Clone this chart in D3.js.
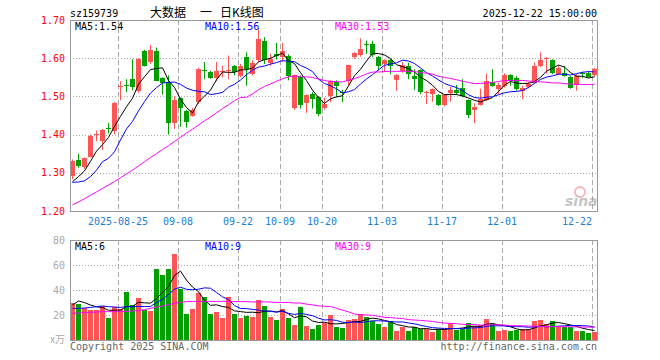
<!DOCTYPE html>
<html>
<head>
<meta charset="utf-8">
<script src="https://cdn.jsdelivr.net/npm/d3@7"></script>
<style>
  body { margin: 0; background: #fff; }
  text { font-family: "DejaVu Sans Mono", monospace; font-size: 10px; }
</style>
</head>
<body>
<div id="chart"></div>
<script>
// trading days shown, 2025-08-13 .. 2025-12-22
const dates = [
  "08-13","08-14","08-15","08-18","08-19","08-20","08-21","08-22","08-25","08-26","08-27","08-28","08-29",
  "09-01","09-02","09-03","09-04","09-05","09-08","09-09","09-10","09-11","09-12","09-15","09-16","09-17",
  "09-18","09-19","09-22","09-23","09-24","09-25","09-26","09-29","09-30",
  "10-09","10-10","10-13","10-14","10-15","10-16","10-17","10-20","10-21","10-22","10-23","10-24","10-27",
  "10-28","10-29","10-30","10-31",
  "11-03","11-04","11-05","11-06","11-07","11-10","11-11","11-12","11-13","11-14","11-17","11-18","11-19",
  "11-20","11-21","11-24","11-25","11-26","11-27","11-28",
  "12-01","12-02","12-03","12-04","12-05","12-08","12-09","12-10","12-11","12-12","12-15","12-16","12-17",
  "12-18","12-19","12-22"
];

const opens = [1.290,1.333,1.315,1.342,1.398,1.383,1.416,1.408,1.525,1.531,
  1.545,1.513,1.618,1.590,1.620,1.548,1.537,1.430,1.495,1.462,
  1.450,1.485,1.568,1.565,1.547,1.565,1.566,1.580,1.555,1.602,
  1.559,1.595,1.644,1.588,1.611,1.602,1.605,1.468,1.552,1.483,
  1.507,1.498,1.468,1.500,1.537,1.512,1.540,1.603,1.607,1.638,
  1.636,1.604,1.583,1.594,1.542,1.566,1.580,1.554,1.569,1.509,
  1.507,1.504,1.476,1.508,1.517,1.521,1.490,1.465,1.478,1.490,
  1.538,1.519,1.525,1.556,1.548,1.515,1.523,1.535,1.579,1.599,
  1.595,1.558,1.561,1.551,1.530,1.560,1.562,1.554];

const highs = [1.335,1.350,1.340,1.400,1.410,1.415,1.430,1.485,1.540,1.545,
  1.597,1.600,1.622,1.635,1.628,1.550,1.555,1.500,1.497,1.465,
  1.470,1.575,1.590,1.567,1.590,1.580,1.607,1.582,1.585,1.615,
  1.595,1.676,1.655,1.612,1.640,1.640,1.610,1.557,1.555,1.505,
  1.511,1.500,1.497,1.543,1.542,1.517,1.583,1.616,1.652,1.646,
  1.645,1.606,1.597,1.598,1.558,1.590,1.588,1.571,1.571,1.515,
  1.521,1.506,1.505,1.525,1.530,1.545,1.492,1.482,1.520,1.560,
  1.571,1.536,1.560,1.558,1.553,1.528,1.538,1.589,1.615,1.603,
  1.597,1.580,1.580,1.553,1.558,1.565,1.566,1.575];

const lows = [1.283,1.313,1.310,1.340,1.383,1.360,1.403,1.400,1.490,1.511,
  1.516,1.510,1.578,1.585,1.540,1.505,1.400,1.415,1.420,1.418,
  1.447,1.480,1.545,1.546,1.540,1.550,1.545,1.555,1.550,1.528,
  1.555,1.590,1.585,1.580,1.597,1.590,1.542,1.465,1.468,1.457,
  1.468,1.448,1.465,1.485,1.498,1.485,1.529,1.598,1.604,1.611,
  1.603,1.568,1.565,1.558,1.515,1.562,1.545,1.517,1.506,1.480,
  1.486,1.475,1.474,1.486,1.505,1.498,1.443,1.430,1.476,1.488,
  1.525,1.505,1.523,1.528,1.515,1.493,1.521,1.533,1.577,1.560,
  1.558,1.556,1.552,1.520,1.515,1.548,1.549,1.552];

const closes = [1.330,1.318,1.338,1.397,1.401,1.413,1.414,1.482,1.528,1.528,
  1.524,1.597,1.580,1.622,1.542,1.534,1.430,1.490,1.468,1.432,
  1.465,1.572,1.565,1.549,1.566,1.567,1.568,1.565,1.580,1.570,
  1.587,1.650,1.594,1.598,1.606,1.618,1.552,1.555,1.479,1.503,
  1.494,1.453,1.479,1.540,1.527,1.510,1.581,1.613,1.624,1.636,
  1.607,1.581,1.594,1.577,1.556,1.581,1.558,1.546,1.511,1.512,
  1.519,1.477,1.503,1.516,1.509,1.501,1.450,1.473,1.493,1.540,
  1.528,1.530,1.555,1.543,1.518,1.523,1.532,1.580,1.595,1.601,
  1.560,1.574,1.554,1.523,1.554,1.558,1.551,1.571];

// volume, 万
const volumes = [29.9,28.8,25.9,24.0,24.0,27.2,17.9,26.1,24.5,38.4,
  28.0,33.6,24.0,23.5,56.8,52.3,56.8,68.8,40.8,20.8,
  24.8,37.9,34.4,20.8,22.7,17.9,34.4,20.8,17.9,19.5,
  18.7,32.0,27.2,18.4,16.0,24.8,17.9,12.0,26.4,11.2,
  8.5,12.0,13.3,20.0,10.7,9.9,16.0,16.8,20.8,18.7,
  15.2,12.8,10.7,15.5,7.5,10.7,7.5,10.1,9.1,8.5,
  6.7,8.8,8.5,13.3,8.3,9.1,13.3,11.5,12.0,16.8,
  12.8,7.5,8.3,7.5,8.3,8.5,8.5,15.2,16.0,12.8,
  15.2,10.7,10.7,10.7,7.5,7.5,5.6,6.7];

// MA values at the left edge (they depend on days before the window)
const ma5Head = [1.277,1.290,1.305,1.330];
const ma10Head = [1.275,1.276,1.279,1.290,1.307,1.329,1.338,1.355,1.386];
const ma30Head = [1.216,1.224,1.232,1.241,1.250,1.259,1.268,1.277,1.287,1.297,
  1.307,1.318,1.329,1.340,1.350,1.361,1.371,1.382,1.393,1.404,
  1.414,1.425,1.436,1.446,1.457,1.468,1.478,1.489,1.497];
const vma5Head = [28.0,31.2,29.9,28.0];
const vma10Head = [25.3,25.3,25.6,26.1,26.7,27.2,26.7,26.4,26.1];
const vma30Head = [21.3,21.6,21.9,22.1,22.4,22.7,22.7,22.7,22.7,22.9,
  23.2,23.5,24.3,25.3,26.4,27.2,28.3,29.3,30.1,30.7,
  30.9,30.9,30.9,30.9,30.9,30.9,30.9,30.7,30.7];

const tickDates = ["08-25","09-08","09-22","10-09","10-20","11-03","11-17","12-01","12-22"];
const tickLabels = ["2025-08-25","09-08","09-22","10-09","10-20","11-03","11-17","12-01","12-22"];
const priceTicks = [1.20,1.30,1.40,1.50,1.60,1.70];
const volTicks = [20,40,60,80];

const maLegend = [["MA5:1.54","#000"],["MA10:1.56","#0000ff"],["MA30:1.53","#ff00ff"]];
const volLegend = [["MA5:6","#000"],["MA10:9","#0000ff"],["MA30:9","#ff00ff"]];

const RED = "#ff5454", GREEN = "#00a000";

function movingAvg(vals, n, head) {
  return vals.map(function(v, i) {
    if (i < n - 1) return head[i];
    return d3.mean(vals.slice(i - n + 1, i + 1));
  });
}

const W = 660, H = 360;
const left = 70, right = 598;
const pTop = 20, pBot = 211, vTop = 240, vBot = 340;

const svg = d3.select("#chart").append("svg")
  .attr("width", W).attr("height", H)
  .style("display", "block");

svg.append("rect").attr("width", W).attr("height", H).attr("fill", "#fff");

const x = d3.scaleBand().domain(dates).range([left, right]);
const y = d3.scaleLinear().domain([1.2, 1.7]).range([pBot, pTop]);
const yv = d3.scaleLinear().domain([0, 80]).range([vBot, vTop]);
const cx = d => x(d) + 2.5;

// header
svg.append("text").attr("x", 70).attr("y", 17).attr("fill", "#000").text("sz159739");
const cjk = [["大数据", 150], ["一", 200], ["日K线图", 220]];
cjk.forEach(function(t) {
  svg.append("text").attr("x", t[1]).attr("y", 17)
    .style("font-family", "'Noto Sans CJK SC', sans-serif").style("font-size", "12px")
    .attr("fill", "#000").text(t[0]);
});
svg.append("text").attr("x", 597).attr("y", 17).attr("text-anchor", "end")
  .attr("fill", "#000").text("2025-12-22 15:00:00");

// grids
const grid = svg.append("g");
grid.selectAll("line.hp").data(priceTicks.slice(1, -1)).join("line")
  .attr("x1", left).attr("x2", right - 1)
  .attr("y1", d => Math.round(y(d)) + 0.5).attr("y2", d => Math.round(y(d)) + 0.5)
  .attr("stroke", "#aaa").attr("stroke-dasharray", "1,2");
grid.selectAll("line.hv").data(volTicks.slice(0, -1)).join("line")
  .attr("x1", left).attr("x2", right - 1)
  .attr("y1", d => Math.round(yv(d)) + 0.5).attr("y2", d => Math.round(yv(d)) + 0.5)
  .attr("stroke", "#aaa").attr("stroke-dasharray", "1,2");
tickDates.forEach(function(d) {
  const xx = Math.round(x(d)) + 0.5;
  [[pTop, pBot], [vTop, vBot]].forEach(function(r) {
    grid.append("line").attr("x1", xx).attr("x2", xx).attr("y1", r[0]).attr("y2", r[1])
      .attr("stroke", "#aaa").attr("stroke-dasharray", "5,3");
  });
});

// sina mark
const logo = svg.append("g").attr("opacity", 0.55);
logo.append("circle").attr("cx", 580).attr("cy", 192).attr("r", 5)
  .attr("fill", "none").attr("stroke", "#f08080").attr("stroke-width", 2);
logo.append("text").attr("x", 565).attr("y", 206)
  .style("font-family", "'DejaVu Sans', sans-serif").style("font-size", "14px")
  .style("font-style", "italic").style("font-weight", "bold")
  .attr("fill", "#999").text("sina");

// candles
const idx = d3.range(dates.length);
const cg = svg.append("g");
cg.selectAll("line").data(idx).join("line")
  .attr("x1", i => cx(dates[i])).attr("x2", i => cx(dates[i]))
  .attr("y1", i => y(highs[i])).attr("y2", i => y(lows[i]))
  .attr("stroke", i => closes[i] >= opens[i] ? RED : GREEN);
cg.selectAll("rect").data(idx).join("rect")
  .attr("x", i => x(dates[i]))
  .attr("width", x.bandwidth() - 1)
  .attr("y", i => Math.round(y(Math.max(opens[i], closes[i]))))
  .attr("height", i => Math.max(1, Math.round(Math.abs(y(opens[i]) - y(closes[i])))))
  .attr("fill", i => closes[i] >= opens[i] ? RED : GREEN);

// volume bars
svg.append("g").selectAll("rect").data(idx).join("rect")
  .attr("x", i => x(dates[i]))
  .attr("width", x.bandwidth() - 1)
  .attr("y", i => Math.round(yv(volumes[i])))
  .attr("height", i => vBot - Math.round(yv(volumes[i])))
  .attr("fill", i => closes[i] >= opens[i] ? RED : GREEN);

// moving averages
const priceMA = [
  [movingAvg(closes, 5, ma5Head), "#000"],
  [movingAvg(closes, 10, ma10Head), "#0000ff"],
  [movingAvg(closes, 30, ma30Head), "#ff00ff"]
];
const volMA = [
  [movingAvg(volumes, 5, vma5Head), "#000"],
  [movingAvg(volumes, 10, vma10Head), "#0000ff"],
  [movingAvg(volumes, 30, vma30Head), "#ff00ff"]
];
priceMA.forEach(function(m) {
  svg.append("path").datum(m[0])
    .attr("d", d3.line().x((d, i) => cx(dates[i])).y(d => y(d)))
    .attr("fill", "none").attr("stroke", m[1]).attr("stroke-width", 1);
});
volMA.forEach(function(m) {
  svg.append("path").datum(m[0])
    .attr("d", d3.line().x((d, i) => cx(dates[i])).y(d => yv(d)))
    .attr("fill", "none").attr("stroke", m[1]).attr("stroke-width", 1);
});

// frames
[[pTop, pBot], [vTop, vBot]].forEach(function(r) {
  svg.append("rect").attr("x", left + 0.5).attr("y", r[0] + 0.5)
    .attr("width", right - left - 1).attr("height", r[1] - r[0])
    .attr("fill", "none").attr("stroke", "#999");
});

// legends
[[maLegend, 30], [volLegend, 250]].forEach(function(l) {
  l[0].forEach(function(t, k) {
    svg.append("text").attr("x", 75 + 130 * k).attr("y", l[1])
      .attr("fill", t[1]).text(t[0]);
  });
});

// axis labels
svg.append("g").selectAll("text").data(priceTicks).join("text")
  .attr("x", 65).attr("y", d => y(d)).attr("dy", "0.35em")
  .attr("text-anchor", "end").attr("fill", "#ff0000")
  .text(d => d.toFixed(2));
svg.append("g").selectAll("text").data(volTicks).join("text")
  .attr("x", 65).attr("y", d => yv(d)).attr("dy", "0.35em")
  .attr("text-anchor", "end").attr("fill", "#aaa")
  .text(d => d);
svg.append("text").attr("x", 65).attr("y", 343).attr("text-anchor", "end")
  .style("font-family", "'Noto Sans CJK SC', sans-serif").style("font-size", "10px")
  .attr("fill", "#aaa").text("x万");
svg.append("g").selectAll("text").data(tickDates).join("text")
  .attr("x", d => x(d)).attr("y", 225)
  .attr("text-anchor", (d, i) => i === tickDates.length - 1 ? "end" : "middle")
  .attr("fill", "#1a80d0")
  .text((d, i) => tickLabels[i]);

// footer
svg.append("text").attr("x", 70).attr("y", 350).attr("fill", "#666")
  .text("Copyright 2025 SINA.COM");
svg.append("text").attr("x", 597).attr("y", 350).attr("text-anchor", "end").attr("fill", "#666")
  .text("http://finance.sina.com.cn");
</script>
</body>
</html>
